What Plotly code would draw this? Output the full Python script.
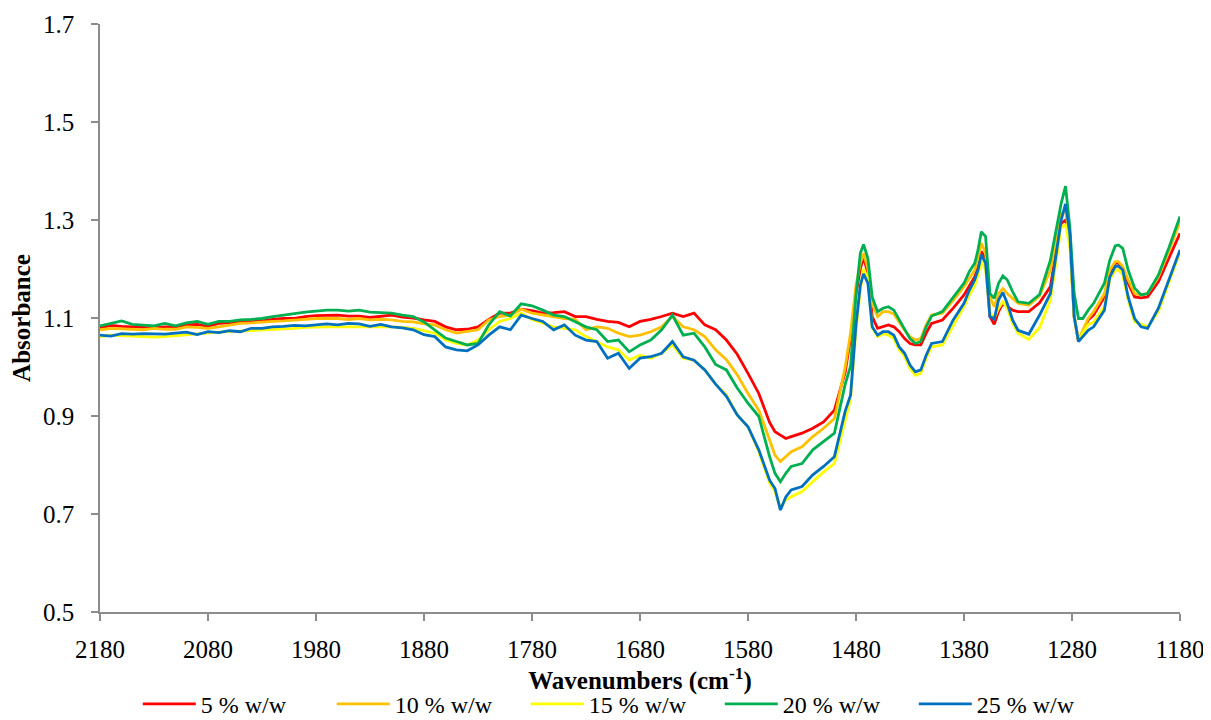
import plotly.graph_objects as go

wn_a = [2180, 2170, 2160, 2150, 2140, 2130, 2120, 2110, 2100, 2090, 2080, 2070, 2060, 2050, 2040, 2030,
        2020, 2010, 2000, 1990, 1980, 1970, 1960, 1950, 1940, 1930, 1920, 1910, 1900, 1890, 1880]
wn_b = [1870, 1860, 1850, 1840, 1830, 1820, 1810, 1800, 1790, 1780, 1770, 1760, 1750, 1740, 1730, 1720,
        1710, 1700, 1690, 1680, 1670, 1660, 1650, 1640, 1630, 1620, 1610]
wn_c = [1600, 1590, 1580, 1570, 1560, 1555, 1550, 1545, 1540, 1530, 1520, 1510, 1500]
wn_d = [1490, 1485, 1480, 1476, 1473, 1469, 1465, 1460, 1455, 1450, 1445, 1440, 1435, 1430, 1425, 1420,
        1415, 1410, 1400, 1390, 1380, 1375, 1370, 1367, 1364, 1360, 1356, 1352, 1348, 1344, 1340, 1335,
        1330, 1320, 1310, 1300, 1295, 1290, 1286, 1282, 1278, 1274, 1270, 1265, 1260, 1250, 1245, 1240,
        1237, 1233, 1228, 1222, 1216, 1210, 1200, 1190, 1180]
wavenumbers = wn_a + wn_b + wn_c + wn_d

w5 = [1.079, 1.085, 1.083, 1.082, 1.082, 1.080, 1.082, 1.082, 1.086, 1.087, 1.083, 1.089, 1.090, 1.091, 1.092, 1.094,
      1.097, 1.099, 1.099, 1.103, 1.105, 1.106, 1.106, 1.104, 1.104, 1.101, 1.103, 1.106, 1.102, 1.100, 1.096,
      1.093, 1.082, 1.076, 1.077, 1.082, 1.097, 1.110, 1.110, 1.118, 1.115, 1.110, 1.111, 1.113, 1.103, 1.103, 1.097,
      1.093, 1.091, 1.082, 1.093, 1.097, 1.103, 1.110, 1.103, 1.110, 1.086, 1.076,
      1.055, 1.026, 0.987, 0.946, 0.887, 0.868, 0.861, 0.854, 0.858, 0.865, 0.875, 0.888, 0.912,
      0.990, 1.060, 1.150, 1.200, 1.225, 1.190, 1.103, 1.079, 1.082, 1.086, 1.082, 1.072, 1.058, 1.048, 1.045, 1.045,
      1.069, 1.089, 1.096, 1.120, 1.147, 1.167, 1.184, 1.205, 1.236, 1.220, 1.103, 1.087, 1.113, 1.130, 1.123, 1.116,
      1.113, 1.113, 1.131, 1.164, 1.232, 1.293, 1.300, 1.262, 1.103, 1.052, 1.072, 1.096, 1.106, 1.143, 1.191, 1.212,
      1.212, 1.202, 1.171, 1.143, 1.141, 1.143, 1.174, 1.222, 1.273]
w10 = [1.076, 1.079, 1.078, 1.077, 1.076, 1.079, 1.077, 1.077, 1.082, 1.081, 1.079, 1.082, 1.086, 1.089, 1.090, 1.092,
       1.093, 1.094, 1.095, 1.097, 1.099, 1.099, 1.099, 1.097, 1.099, 1.096, 1.097, 1.096, 1.093, 1.092, 1.088,
       1.086, 1.076, 1.069, 1.072, 1.076, 1.096, 1.103, 1.106, 1.118, 1.110, 1.106, 1.103, 1.099, 1.097, 1.076, 1.082,
       1.079, 1.069, 1.062, 1.065, 1.072, 1.082, 1.103, 1.082, 1.076, 1.062, 1.035,
       1.015, 0.984, 0.946, 0.912, 0.851, 0.820, 0.807, 0.817, 0.827, 0.837, 0.858, 0.875, 0.895,
       1.000, 1.070, 1.167, 1.212, 1.232, 1.200, 1.130, 1.103, 1.113, 1.113, 1.108, 1.092, 1.075, 1.062, 1.055, 1.058,
       1.086, 1.106, 1.110, 1.136, 1.164, 1.181, 1.198, 1.220, 1.253, 1.233, 1.143, 1.123, 1.150, 1.160, 1.150, 1.140,
       1.130, 1.126, 1.145, 1.198, 1.256, 1.314, 1.318, 1.265, 1.103, 1.055, 1.075, 1.099, 1.113, 1.150, 1.198, 1.215,
       1.215, 1.205, 1.178, 1.150, 1.147, 1.150, 1.184, 1.238, 1.297]
w15 = [1.062, 1.065, 1.064, 1.063, 1.062, 1.061, 1.062, 1.064, 1.066, 1.068, 1.069, 1.071, 1.072, 1.073, 1.074, 1.075,
       1.077, 1.078, 1.079, 1.081, 1.082, 1.082, 1.082, 1.082, 1.083, 1.082, 1.082, 1.082, 1.081, 1.079, 1.074,
       1.069, 1.055, 1.048, 1.045, 1.055, 1.076, 1.093, 1.099, 1.110, 1.097, 1.089, 1.082, 1.079, 1.076, 1.062, 1.052,
       1.041, 1.035, 1.014, 1.024, 1.018, 1.028, 1.045, 1.018, 1.014, 0.994, 0.965,
       0.943, 0.902, 0.878, 0.827, 0.763, 0.746, 0.712, 0.729, 0.735, 0.746, 0.766, 0.786, 0.803,
       0.895, 0.935, 1.076, 1.157, 1.200, 1.180, 1.080, 1.062, 1.068, 1.065, 1.058, 1.035, 1.021, 0.997, 0.983, 0.987,
       1.018, 1.041, 1.045, 1.085, 1.123, 1.147, 1.167, 1.188, 1.215, 1.198, 1.110, 1.100, 1.120, 1.133, 1.120, 1.089,
       1.069, 1.056, 1.080, 1.137, 1.212, 1.286, 1.290, 1.246, 1.103, 1.052, 1.069, 1.086, 1.092, 1.123, 1.178, 1.198,
       1.198, 1.188, 1.137, 1.092, 1.087, 1.082, 1.113, 1.174, 1.235]
w20 = [1.084, 1.089, 1.094, 1.087, 1.086, 1.084, 1.089, 1.084, 1.090, 1.093, 1.087, 1.093, 1.093, 1.096, 1.097, 1.099,
       1.103, 1.106, 1.110, 1.112, 1.114, 1.116, 1.116, 1.114, 1.116, 1.112, 1.111, 1.110, 1.106, 1.103, 1.092,
       1.076, 1.059, 1.052, 1.045, 1.048, 1.086, 1.113, 1.104, 1.129, 1.125, 1.116, 1.106, 1.103, 1.093, 1.082, 1.076,
       1.052, 1.055, 1.031, 1.045, 1.055, 1.076, 1.106, 1.065, 1.069, 1.041, 1.005,
       0.994, 0.957, 0.926, 0.899, 0.817, 0.783, 0.766, 0.783, 0.797, 0.803, 0.831, 0.848, 0.865,
       0.965, 1.002, 1.147, 1.232, 1.250, 1.222, 1.143, 1.113, 1.120, 1.123, 1.116, 1.096, 1.079, 1.058, 1.048, 1.052,
       1.082, 1.104, 1.113, 1.143, 1.171, 1.195, 1.212, 1.239, 1.276, 1.266, 1.150, 1.140, 1.171, 1.186, 1.178, 1.154,
       1.133, 1.130, 1.148, 1.218, 1.273, 1.334, 1.369, 1.286, 1.150, 1.099, 1.099, 1.116, 1.130, 1.171, 1.218, 1.247,
       1.249, 1.242, 1.198, 1.161, 1.147, 1.150, 1.188, 1.245, 1.307]
w25 = [1.065, 1.063, 1.068, 1.067, 1.068, 1.068, 1.067, 1.069, 1.071, 1.066, 1.072, 1.070, 1.074, 1.072, 1.079, 1.079,
       1.082, 1.083, 1.085, 1.084, 1.086, 1.088, 1.086, 1.089, 1.088, 1.083, 1.087, 1.082, 1.080, 1.076, 1.066,
       1.062, 1.041, 1.035, 1.033, 1.045, 1.065, 1.082, 1.076, 1.106, 1.099, 1.093, 1.076, 1.086, 1.065, 1.055, 1.052,
       1.018, 1.028, 0.997, 1.018, 1.021, 1.028, 1.052, 1.021, 1.014, 0.994, 0.965,
       0.940, 0.902, 0.878, 0.831, 0.769, 0.752, 0.708, 0.735, 0.749, 0.756, 0.780, 0.797, 0.817,
       0.910, 0.943, 1.086, 1.167, 1.190, 1.171, 1.082, 1.065, 1.072, 1.072, 1.065, 1.041, 1.028, 1.004, 0.990, 0.994,
       1.024, 1.048, 1.052, 1.096, 1.130, 1.157, 1.178, 1.198, 1.229, 1.212, 1.103, 1.098, 1.137, 1.152, 1.130, 1.096,
       1.075, 1.067, 1.106, 1.150, 1.225, 1.300, 1.333, 1.272, 1.103, 1.052, 1.062, 1.075, 1.082, 1.116, 1.184, 1.205,
       1.206, 1.198, 1.143, 1.099, 1.082, 1.079, 1.120, 1.181, 1.239]

series_names = ["5 % w/w", "10 % w/w", "15 % w/w", "20 % w/w", "25 % w/w"]
series_values = [w5, w10, w15, w20, w25]
series_colors = ["#FF0000", "#FFC000", "#FFFF00", "#00B050", "#0070C0"]

x_ticks = [2180, 2080, 1980, 1880, 1780, 1680, 1580, 1480, 1380, 1280, 1180]
y_ticks = [0.5, 0.7, 0.9, 1.1, 1.3, 1.5, 1.7]

fig = go.Figure()
for name, vals, col in zip(series_names, series_values, series_colors):
    fig.add_trace(go.Scatter(x=wavenumbers, y=vals, name=name, mode="lines",
                             line=dict(color=col, width=2.8)))

font_family = "Liberation Serif, Times New Roman, serif"
axis_col = "#8c8c8c"
fs = 25
fig.update_layout(
    width=1203, height=712,
    margin=dict(l=92, r=31, t=16, b=108, autoexpand=False),
    paper_bgcolor="white", plot_bgcolor="white",
    font=dict(family=font_family, size=fs, color="black"),
    showlegend=True,
    legend=dict(orientation="h", x=0.035, y=-0.157, xanchor="left", yanchor="middle",
                font=dict(family=font_family, size=24, color="black"),
                entrywidth=126, entrywidthmode="pixels", itemwidth=53,
                tracegroupgap=0, bgcolor="rgba(0,0,0,0)"),
    xaxis=dict(range=[2180, 1180], tickmode="array", tickvals=x_ticks,
               ticktext=[str(t) for t in x_ticks],
               showgrid=False, zeroline=False, showline=True, linecolor=axis_col, linewidth=1.5,
               ticks="outside", ticklen=7, tickcolor=axis_col, tickwidth=1.5,
               ticklabelstandoff=7,
               tickfont=dict(size=fs),
               title=dict(text="<b>Wavenumbers (cm<sup>-1</sup>)</b>", font=dict(size=fs), standoff=10)),
    yaxis=dict(range=[0.5, 1.7], tickmode="array", tickvals=y_ticks,
               ticktext=["%.1f" % t for t in y_ticks],
               showgrid=False, zeroline=False, showline=True, linecolor=axis_col, linewidth=1.5,
               ticks="outside", ticklen=7, tickcolor=axis_col, tickwidth=1.5,
               ticklabelstandoff=12,
               tickfont=dict(size=fs),
               title=dict(text="<b>Absorbance</b>", font=dict(size=fs), standoff=10)),
)

fig.write_html("out.html")
